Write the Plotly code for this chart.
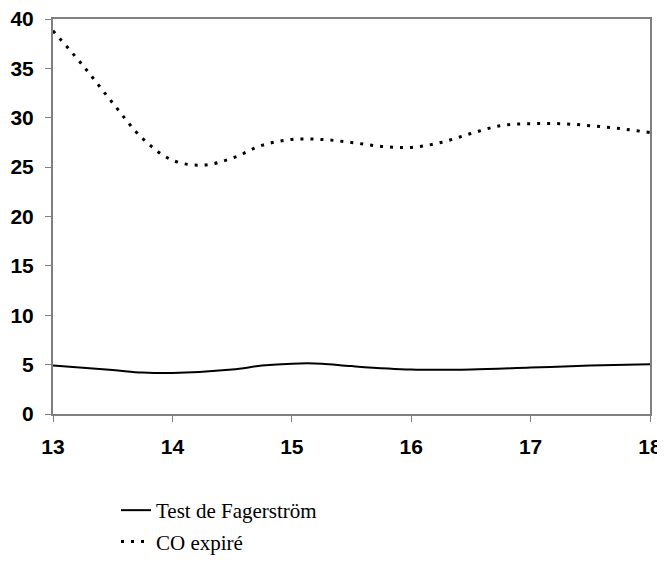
import plotly.graph_objects as go

# Ages (x) and values
age_co = [13, 13.25, 13.5, 13.75, 14, 14.25, 14.5, 14.75, 15, 15.25, 15.5,
          15.75, 16, 16.25, 16.5, 16.75, 17, 17.25, 17.5, 17.75, 18]
co_expire = [38.8, 35.3, 31.5, 27.9, 25.7, 25.2, 25.9, 27.2, 27.8, 27.8, 27.5,
             27.1, 27.0, 27.5, 28.4, 29.2, 29.4, 29.4, 29.2, 28.9, 28.5]

age_fag = [13, 13.5, 13.75, 14, 14.5, 14.75, 15, 15.25, 15.5, 16, 16.5, 17, 17.5, 18]
fagerstrom = [4.9, 4.45, 4.2, 4.15, 4.5, 4.9, 5.1, 5.1, 4.85, 4.5, 4.5, 4.7, 4.9, 5.05]

x_ticks = [13, 14, 15, 16, 17, 18]
y_ticks = [0, 5, 10, 15, 20, 25, 30, 35, 40]

fig = go.Figure()
fig.add_trace(go.Scatter(
    x=age_fag, y=fagerstrom, mode="lines", name="Test de Fagerström",
    line=dict(color="black", width=2, shape="spline", smoothing=1.0),
    legendgroup="a"))
fig.add_trace(go.Scatter(
    x=age_co, y=co_expire, mode="lines", name="CO expiré",
    line=dict(color="black", width=3, dash="3px,7px", shape="spline", smoothing=1.0),
    legendgroup="b"))

axis_col = "#808080"
tick_font = dict(family="Liberation Sans", size=21, color="black", weight="bold")
plot_h = 562 - 11 - 156
plot_w = 657 - 45 - 15
fig.update_layout(
    width=657, height=562,
    margin=dict(l=45, r=15, t=11, b=156, autoexpand=False),
    paper_bgcolor="white", plot_bgcolor="white",
    showlegend=True,
    legend=dict(
        x=(108 - 45) / plot_w, xanchor="left",
        y=-(497 - 8 - 11 - plot_h - 7) / plot_h, yanchor="top",
        font=dict(family="Liberation Serif", size=21, color="black"),
        traceorder="grouped", tracegroupgap=1,
        bgcolor="rgba(0,0,0,0)",
    ),
    xaxis=dict(
        range=[13, 18], tickvals=x_ticks, ticktext=[str(v) for v in x_ticks],
        showgrid=False, zeroline=False,
        showline=True, linecolor=axis_col, linewidth=2, mirror=True,
        ticks="outside", ticklen=6, tickcolor=axis_col, tickwidth=1,
        tickfont=tick_font, ticklabelstandoff=7, ticklabeloverflow="allow",
    ),
    yaxis=dict(
        range=[0, 40], tickvals=y_ticks, ticktext=[str(v) for v in y_ticks],
        showgrid=False, zeroline=False,
        showline=True, linecolor=axis_col, linewidth=2, mirror=True,
        ticks="outside", ticklen=6, tickcolor=axis_col, tickwidth=1,
        tickfont=tick_font, ticklabelstandoff=7, ticklabeloverflow="allow",
    ),
)

fig.write_html("out.html")
